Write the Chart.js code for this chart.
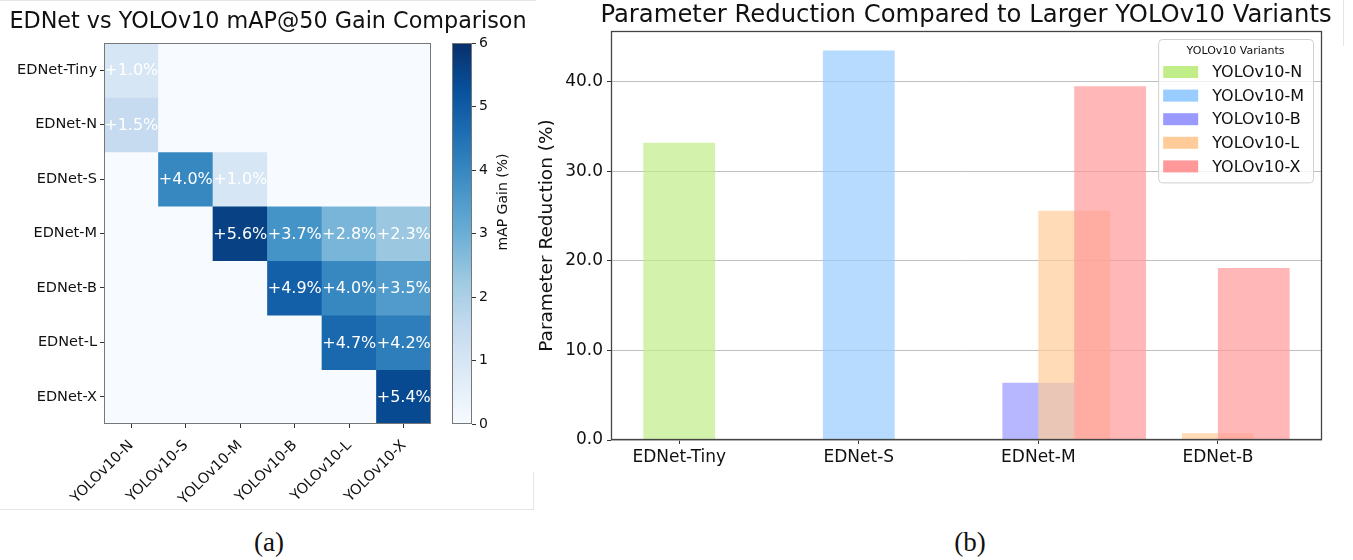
<!DOCTYPE html>
<html>
<head>
<meta charset="utf-8">
<title>EDNet vs YOLOv10</title>
<script src="https://cdn.jsdelivr.net/npm/chart.js@4.4.1/dist/chart.umd.min.js"></script>
<style>
	body { margin: 0; width: 1353px; height: 560px; background: #fff; position: relative; overflow: hidden; font-family: "DejaVu Sans", sans-serif; color: #111; }
	canvas { position: absolute; }
	.title { position: absolute; text-align: center; white-space: nowrap; line-height: normal; color: #111; }
	.caption { position: absolute; width: 100px; text-align: center; font-family: "Liberation Serif", serif; font-size: 27px; line-height: 27px; color: #111; }
	.edge { position: absolute; background: #e3e7e3; }
</style>
</head>
<body>
<div class="edge" style="left:0; top:0; width:536px; height:1px;"></div>
<div class="edge" style="left:0; top:509px; width:534px; height:1px;"></div>
<div class="edge" style="left:533px; top:472px; width:1px; height:38px;"></div>
<div class="edge" style="left:1343px; top:0; width:1px; height:46px;"></div>

<canvas id="heat-chart" width="440" height="512" style="left:0; top:0;"></canvas>
<canvas id="colorbar-chart" width="100" height="512" style="left:440px; top:0;"></canvas>
<canvas id="reduction-chart" width="818" height="500" style="left:535px; top:0;"></canvas>

<div class="title" style="left:0; width:536px; top:7px; font-size:22.3px;">EDNet vs YOLOv10 mAP@50 Gain Comparison</div>
<div class="title" style="left:566px; width:800px; top:-1.5px; font-size:24.3px;">Parameter Reduction Compared to Larger YOLOv10 Variants</div>

<div class="caption" style="left:219px; top:529px;">(a)</div>
<div class="caption" style="left:920px; top:529px;">(b)</div>

<script>
//////////////////////////////////////////
// DATA
//////////////////////////////////////////

// Heatmap (a): rows are EDNet models, columns YOLOv10 models, values mAP@50 gain in %
var ednetModels = ["EDNet-Tiny", "EDNet-N", "EDNet-S", "EDNet-M", "EDNet-B", "EDNet-L", "EDNet-X"];
var yoloModels = ["YOLOv10-N", "YOLOv10-S", "YOLOv10-M", "YOLOv10-B", "YOLOv10-L", "YOLOv10-X"];
var gainTiny = [1.0, 0, 0, 0, 0, 0];
var gainN    = [1.5, 0, 0, 0, 0, 0];
var gainS    = [0, 4.0, 1.0, 0, 0, 0];
var gainM    = [0, 0, 5.6, 3.7, 2.8, 2.3];
var gainB    = [0, 0, 0, 4.9, 4.0, 3.5];
var gainL    = [0, 0, 0, 0, 4.7, 4.2];
var gainX    = [0, 0, 0, 0, 0, 5.4];
var gainTicks = [0, 1, 2, 3, 4, 5, 6];

// Bars (b): parameter reduction (%) of each EDNet model vs larger YOLOv10 variants
var reductionModels = ["EDNet-Tiny", "EDNet-S", "EDNet-M", "EDNet-B"];
var variantNames = ["YOLOv10-N", "YOLOv10-M", "YOLOv10-B", "YOLOv10-L", "YOLOv10-X"];
var reductionN = [33.2, null, null, null];
var reductionM = [null, 43.5, null, null];
var reductionB = [null, null, 6.4, null];
var reductionL = [null, null, 25.6, 0.75];
var reductionX = [null, null, 39.5, 19.2];
var reductionTicks = [0, 10, 20, 30, 40];

//////////////////////////////////////////
// STYLE
//////////////////////////////////////////

var FONT = "DejaVu Sans";
var TEXT = "#111";
var BLUES = ["#f7fbff", "#deebf7", "#c6dbef", "#9ecae1", "#6baed6", "#4292c6", "#2171b5", "#08519c", "#08306b"];
var variantColors = ["#c1ed88", "#99ccff", "#9999ff", "#ffcc99", "#ff9999"];
var barAlpha = 0.7;
var slotStep = 0.2;   // offset between bars of the same EDNet model
var barWidth = 0.4;   // in x units

var gainRows = [gainTiny, gainN, gainS, gainM, gainB, gainL, gainX];
var gainMax = gainTicks[gainTicks.length - 1];

function hexToRgb(h) {
	return [parseInt(h.slice(1, 3), 16), parseInt(h.slice(3, 5), 16), parseInt(h.slice(5, 7), 16)];
}

// Linear interpolation through the Blues colour map
function bluesColor(t) {
	t = Math.max(0, Math.min(1, t));
	var pos = t * (BLUES.length - 1);
	var i = Math.min(Math.floor(pos), BLUES.length - 2);
	var f = pos - i;
	var a = hexToRgb(BLUES[i]), b = hexToRgb(BLUES[i + 1]);
	var c = [0, 1, 2].map(function (k) { return Math.round(a[k] + (b[k] - a[k]) * f); });
	return "rgb(" + c.join(",") + ")";
}

function fade(hex, alpha) {
	var c = hexToRgb(hex);
	return "rgba(" + c[0] + "," + c[1] + "," + c[2] + "," + alpha + ")";
}

//////////////////////////////////////////
// PLUGINS
//////////////////////////////////////////

// Box around the plot area (all four spines)
var framePlugin = {
	id: "frame",
	afterDraw: function (chart, args, opts) {
		var a = chart.chartArea, ctx = chart.ctx;
		ctx.save();
		ctx.strokeStyle = opts.color || "#444";
		ctx.lineWidth = opts.width || 1;
		ctx.strokeRect(a.left + 0.5, a.top + 0.5, a.right - a.left - 1, a.bottom - a.top - 1);
		ctx.restore();
	}
};

// Percentage text in each non-zero heatmap cell
var cellLabelPlugin = {
	id: "cellLabels",
	afterDatasetsDraw: function (chart) {
		var ctx = chart.ctx;
		ctx.save();
		ctx.font = "16px '" + FONT + "'";
		ctx.fillStyle = "#fff";
		ctx.textAlign = "center";
		ctx.textBaseline = "middle";
		gainRows.forEach(function (row, i) {
			chart.getDatasetMeta(i).data.forEach(function (bar, j) {
				if (row[j] > 0) {
					var p = bar.getCenterPoint();
					ctx.fillText("+" + row[j].toFixed(1) + "%", p.x, p.y + 1);
				}
			});
		});
		ctx.restore();
	}
};

// Colour bar label, reading bottom to top
var colorbarLabelPlugin = {
	id: "cbLabel",
	afterDraw: function (chart) {
		var ctx = chart.ctx, a = chart.chartArea;
		ctx.save();
		ctx.translate(a.right + 31, 202);
		ctx.rotate(-Math.PI / 2);
		ctx.font = "14px '" + FONT + "'";
		ctx.fillStyle = TEXT;
		ctx.textAlign = "center";
		ctx.textBaseline = "middle";
		ctx.fillText("mAP Gain (%)", 0, 0);
		ctx.restore();
	}
};

// Legend box in the upper right corner of the bar chart
var variantLegendPlugin = {
	id: "variantLegend",
	afterDraw: function (chart) {
		var ctx = chart.ctx, a = chart.chartArea;
		ctx.save();
		ctx.font = "16px '" + FONT + "'";
		var textW = 0;
		variantNames.forEach(function (n) { textW = Math.max(textW, ctx.measureText(n).width); });
		var w = 5 + 35 + 14 + textW + 9;
		var rowStep = 23.6;
		var h = 33 + (variantNames.length - 1) * rowStep + 16;
		var x = a.right - 9 - w, y = a.top + 8;

		ctx.beginPath();
		ctx.roundRect(x + 0.5, y + 0.5, w, h, 4);
		ctx.fillStyle = "rgba(255,255,255,0.8)";
		ctx.fill();
		ctx.strokeStyle = "#d0d0d0";
		ctx.lineWidth = 1;
		ctx.stroke();

		ctx.fillStyle = TEXT;
		ctx.textBaseline = "middle";
		ctx.textAlign = "center";
		ctx.font = "11px '" + FONT + "'";
		ctx.fillText("YOLOv10 Variants", x + w / 2, y + 12);

		ctx.textAlign = "left";
		ctx.font = "16px '" + FONT + "'";
		variantNames.forEach(function (n, k) {
			var cy = y + 33 + k * rowStep;
			ctx.fillStyle = variantColors[k];
			ctx.fillRect(x + 5, cy - 6, 35, 12);
			ctx.fillStyle = TEXT;
			ctx.fillText(n, x + 54, cy + 1);
		});
		ctx.restore();
	}
};

Chart.defaults.font.family = FONT;
Chart.defaults.color = TEXT;
Chart.defaults.animation = false;
Chart.defaults.plugins.legend.display = false;
Chart.defaults.plugins.tooltip.enabled = false;

//////////////////////////////////////////
// (a) HEATMAP
//////////////////////////////////////////

window.addEventListener("load", function () {
	var heatDatasets = gainRows.map(function (row, i) {
		return {
			label: ednetModels[i],
			data: row.map(function () { return [i - 0.5, i + 0.5]; }),
			backgroundColor: row.map(function (v) { return bluesColor(v / gainMax); }),
			borderWidth: 0,
			grouped: false,
			barPercentage: 1,
			categoryPercentage: 1
		};
	});

	new Chart(document.getElementById("heat-chart"), {
		type: "bar",
		data: { labels: yoloModels, datasets: heatDatasets },
		plugins: [cellLabelPlugin, framePlugin],
		options: {
			responsive: false,
			layout: { padding: { top: 43, right: 9, left: 0, bottom: 0 } },
			plugins: { frame: { color: "#777", width: 1 } },
			scales: {
				x: {
					type: "category",
					grid: { display: true, drawOnChartArea: false, offset: false, tickLength: 4, tickColor: "#333" },
					border: { display: false },
					ticks: { font: { size: 14.5 }, color: TEXT, minRotation: 45, maxRotation: 45, autoSkip: false, padding: 9 },
					afterFit: function (scale) { scale.height = 88; }
				},
				y: {
					type: "linear",
					min: -0.5,
					max: ednetModels.length - 0.5,
					reverse: true,
					grid: { display: true, drawOnChartArea: false, tickLength: 4, tickColor: "#333" },
					border: { display: false },
					afterBuildTicks: function (scale) {
						scale.ticks = ednetModels.map(function (m, i) { return { value: i }; });
					},
					ticks: {
						font: { size: 14.5 }, color: TEXT, padding: 3, autoSkip: false,
						callback: function (v) { return ednetModels[v]; }
					},
					afterFit: function (scale) { scale.width = 104; }
				}
			}
		}
	});

	// Colour bar for the heatmap
	new Chart(document.getElementById("colorbar-chart"), {
		type: "bar",
		data: {
			labels: [""],
			datasets: [{
				data: [[0, gainMax]],
				borderWidth: 0,
				barPercentage: 1,
				categoryPercentage: 1,
				backgroundColor: function (context) {
					var chart = context.chart, y = chart.scales.y;
					if (!chart.chartArea || !y) return BLUES[0];
					var g = chart.ctx.createLinearGradient(0, y.getPixelForValue(0), 0, y.getPixelForValue(gainMax));
					BLUES.forEach(function (c, k) { g.addColorStop(k / (BLUES.length - 1), c); });
					return g;
				}
			}]
		},
		plugins: [framePlugin, colorbarLabelPlugin],
		options: {
			responsive: false,
			layout: { padding: { top: 43, left: 12, right: 0, bottom: 88 } },
			plugins: { frame: { color: "#777", width: 1 } },
			scales: {
				x: { display: false },
				y: {
					position: "right",
					min: 0,
					max: gainMax,
					grid: { display: true, drawOnChartArea: false, tickLength: 4, tickColor: "#333" },
					border: { display: false },
					afterBuildTicks: function (scale) {
						scale.ticks = gainTicks.map(function (v) { return { value: v }; });
					},
					ticks: { font: { size: 14 }, color: TEXT, padding: 3 },
					afterFit: function (scale) { scale.width = 68; }
				}
			}
		}
	});

	//////////////////////////////////////////
	// (b) PARAMETER REDUCTION BARS
	//////////////////////////////////////////

	var reductionSeries = [reductionN, reductionM, reductionB, reductionL, reductionX];
	var slotCount = reductionModels.map(function () { return 0; });
	var allX = [], allY = [];
	var barDatasets = reductionSeries.map(function (series, k) {
		var pts = [];
		series.forEach(function (v, i) {
			if (v === null) return;
			var x = i + slotCount[i] * slotStep;
			slotCount[i]++;
			pts.push({ x: x, y: v });
			allX.push(x);
			allY.push(v);
		});
		return {
			label: variantNames[k],
			data: pts,
			backgroundColor: fade(variantColors[k], barAlpha),
			borderWidth: 0,
			grouped: false,
			categoryPercentage: 1,
			barPercentage: barWidth / slotStep,
			order: reductionSeries.length - k
		};
	});

	// 5% margins around the bars, like the original plot
	var xLeft = Math.min.apply(null, allX) - barWidth / 2;
	var xRight = Math.max.apply(null, allX) + barWidth / 2;
	var xPad = (xRight - xLeft) * 0.05;
	var yMax = Math.max.apply(null, allY) * 1.05;

	new Chart(document.getElementById("reduction-chart"), {
		type: "bar",
		data: { datasets: barDatasets },
		plugins: [framePlugin, variantLegendPlugin],
		options: {
			responsive: false,
			layout: { padding: { top: 31, right: 31, left: 0, bottom: 0 } },
			plugins: { frame: { color: "#444", width: 1.3 } },
			scales: {
				x: {
					type: "linear",
					offset: false,
					min: xLeft - xPad,
					max: xRight + xPad,
					grid: { display: true, drawOnChartArea: false, offset: false, tickLength: 4, tickColor: "#333" },
					border: { display: false },
					afterBuildTicks: function (scale) {
						scale.ticks = reductionModels.map(function (m, i) { return { value: i }; });
					},
					ticks: {
						font: { size: 17 }, color: TEXT, padding: 3, autoSkip: false, maxRotation: 0,
						callback: function (v) { return reductionModels[v]; }
					},
					afterFit: function (scale) { scale.height = 60; }
				},
				y: {
					type: "linear",
					min: 0,
					max: yMax,
					grid: { color: "rgba(170,170,170,0.75)", lineWidth: 1, tickLength: 4, tickColor: "#333" },
					border: { display: false },
					afterBuildTicks: function (scale) {
						scale.ticks = reductionTicks.map(function (v) { return { value: v }; });
					},
					ticks: {
						font: { size: 17 }, color: TEXT, padding: 4,
						callback: function (v) { return v.toFixed(1); }
					},
					title: {
						display: true,
						text: "Parameter Reduction (%)",
						font: { size: 18.5 },
						color: TEXT,
						padding: { top: 1, bottom: 0 }
					},
					afterFit: function (scale) { scale.width = 76; }
				}
			}
		}
	});
});
</script>
</body>
</html>
